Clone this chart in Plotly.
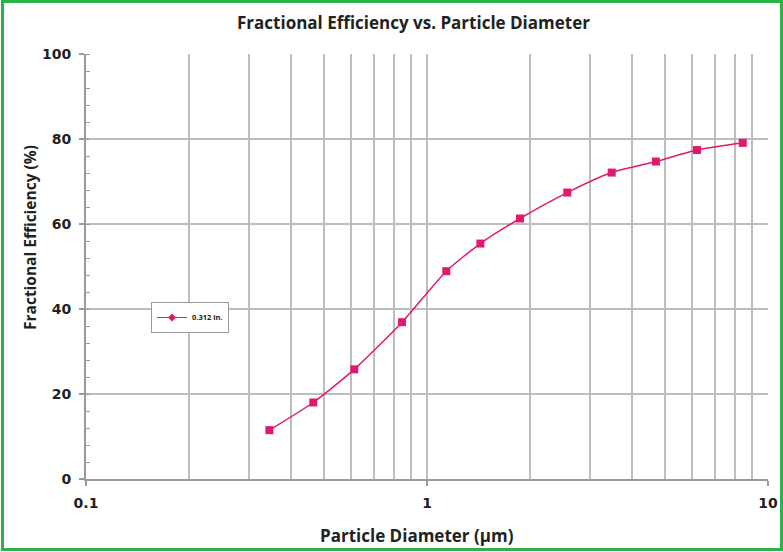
import plotly.graph_objects as go

diameter_um = [0.345, 0.464, 0.612, 0.845, 1.139, 1.434, 1.874, 2.579, 3.48, 4.69, 6.19, 8.43]
efficiency_pct = [11.5, 18.0, 25.8, 36.9, 48.9, 55.4, 61.3, 67.4, 72.1, 74.7, 77.4, 79.1]
series_name = "0.312 in."
x_tick_vals = [0.1, 1, 10]
x_tick_text = ["0.1", "1", "10"]
y_tick_vals = [0, 20, 40, 60, 80, 100]

PINK = "#e0196e"
GRID = "#bdbdbd"
AXIS = "#9a9a9a"
FONT = "Open Sans"
TICKFONT = "DejaVu Sans"

W, H = 783, 552
L, R, T, B = 86, 15, 54, 73
PW, PH = W - L - R, H - T - B


def px(x):
    return (x - L) / PW


def py(y):
    return (H - B - y) / PH


fig = go.Figure()
fig.add_trace(go.Scatter(
    x=diameter_um, y=efficiency_pct, mode="lines+markers",
    line=dict(color=PINK, width=1.5, shape="spline", smoothing=0.6),
    marker=dict(symbol="square", size=8, color=PINK),
    showlegend=False, name=series_name))
fig.add_trace(go.Scatter(
    x=[None], y=[None], mode="lines+markers",
    line=dict(color=PINK, width=1),
    marker=dict(symbol="diamond", size=6, color=PINK),
    name=series_name, showlegend=True))

fig.update_layout(
    width=W, height=H,
    margin=dict(l=L, r=R, t=T, b=B, autoexpand=False),
    paper_bgcolor="white", plot_bgcolor="white",
    font=dict(family=FONT, color="#222"),
    showlegend=True,
    legend=dict(x=px(151), y=py(302),
                xanchor="left", yanchor="top",
                bordercolor="#9a9a9a", borderwidth=1, bgcolor="white",
                font=dict(size=7.5, family=FONT, color="#222", weight="bold"),
                itemwidth=30, tracegroupgap=0,
                entrywidth=38, entrywidthmode="pixels"),
    xaxis=dict(type="log", range=[-1, 1], automargin=False,
               tickvals=x_tick_vals, ticktext=x_tick_text,
               ticks="outside", ticklen=5, tickcolor=AXIS, tickwidth=1.5,
               ticklabelstandoff=5,
               showgrid=True, gridcolor=GRID, gridwidth=2,
               minor=dict(dtick="D1", showgrid=True, gridcolor=GRID, gridwidth=2, ticks=""),
               showline=True, linecolor=AXIS, linewidth=2,
               tickfont=dict(size=14, family=TICKFONT, weight="bold", color="#222"),
               zeroline=False),
    yaxis=dict(range=[0, 100], tickvals=y_tick_vals, automargin=False,
               ticks="outside", ticklen=5, tickcolor=AXIS, tickwidth=1.5,
               ticklabelstandoff=5,
               showgrid=True, gridcolor=GRID, gridwidth=2,
               minor=dict(dtick=4, ticks="inside", ticklen=4, tickcolor=AXIS, tickwidth=1, showgrid=False),
               showline=True, linecolor=AXIS, linewidth=2,
               tickfont=dict(size=14, family=TICKFONT, weight="bold", color="#222"),
               zeroline=False),
    shapes=[dict(type="rect", xref="paper", yref="paper",
                 x0=px(2.5), x1=px(781.5), y0=py(549.5), y1=py(1.5),
                 line=dict(color="#2bb34a", width=3), layer="below")],
    annotations=[
        dict(text="<b>Fractional Efficiency vs. Particle Diameter</b>",
             xref="paper", yref="paper", x=px(413), y=py(22),
             xanchor="center", yanchor="middle", showarrow=False,
             font=dict(size=17, family=FONT, color="#222")),
        dict(text="<b>Particle Diameter (µm)</b>",
             xref="paper", yref="paper", x=px(417), y=py(535),
             xanchor="center", yanchor="middle", showarrow=False,
             font=dict(size=17, family=FONT, color="#222")),
        dict(text="<b>Fractional Efficiency (%)</b>",
             xref="paper", yref="paper", textangle=-90, x=px(30), y=py(238),
             xanchor="center", yanchor="middle", showarrow=False,
             font=dict(size=15.5, family=FONT, color="#222")),
    ],
)

fig.write_html(
    "out.html",
    config={"displayModeBar": False},
    post_script=(
        "document.documentElement.style.margin='0';"
        "document.documentElement.style.padding='0';"
        "document.documentElement.style.overflow='hidden';"
        "document.body.style.margin='0';"
        "document.body.style.padding='0';"
        "document.body.style.overflow='hidden';"
    ),
)
